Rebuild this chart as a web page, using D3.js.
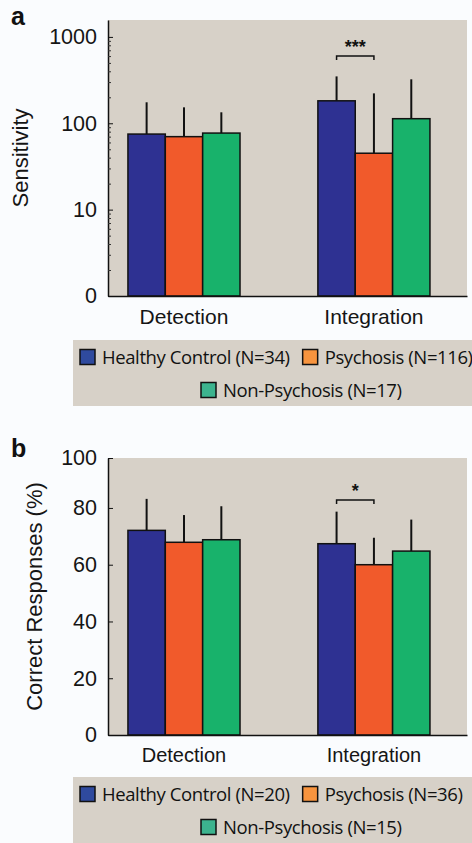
<!DOCTYPE html>
<html>
<head>
<meta charset="utf-8">
<script src="https://cdn.jsdelivr.net/npm/d3@7"></script>
<style>
  html, body { margin: 0; padding: 0; background: #fafcfe; }
  svg { display: block; }
</style>
</head>
<body>
<div id="chart"></div>
<script>
// data
var tasks = ["Detection", "Integration"];
var groups = ["Healthy Control", "Psychosis", "Non-Psychosis"];

var sensitivityMean = [[75, 70, 77], [182, 45, 113]];
var sensitivityUpper = [[175, 153, 134], [349, 222, 323]];
var sensitivityN = [34, 116, 17];
var sensitivityTicks = [1, 10, 100, 1000];
var sensitivityTickLabels = ["0", "10", "100", "1000"];

var correctMean = [[72.1, 67.9, 68.8], [67.4, 60.0, 64.8]];
var correctUpper = [[83.2, 77.5, 80.6], [78.7, 69.5, 75.9]];
var correctN = [20, 36, 15];
var correctTicks = [0, 20, 40, 60, 80, 100];
var correctTickLabels = ["0", "20", "40", "60", "80", "100"];

var barColors = ["#2e3192", "#f15a2b", "#18b26b"];
var legendColors = ["#2f4a9e", "#f7943e", "#3cb38e"];

var width = 472, height = 843;
var plotLeft = 108, plotRight = 467;
var axisFont = "'Liberation Sans', Arial, sans-serif";
var legendFont = "'Open Sans', sans-serif";

var svg = d3.select("#chart")
    .append("svg")
    .attr("width", width)
    .attr("height", height);

function drawPanel(p)
{
    var g = svg.append("g");

    var scaleX = d3.scaleBand(tasks, [plotLeft, plotRight])
        .paddingInner(0.41)
        .paddingOuter(0.15)
        .align(0.35);
    var scaleGroup = d3.scaleBand(groups, [0, scaleX.bandwidth()]);
    var scaleY = p.scaleY;
    var yBottom = scaleY.range()[0], yTop = scaleY.range()[1];

    // plot background
    g.append("rect")
        .attr("x", plotLeft)
        .attr("y", yTop)
        .attr("width", plotRight - plotLeft)
        .attr("height", yBottom - yTop)
        .attr("fill", "#d7d1c8");

    // panel letter
    g.append("text")
        .attr("x", 11)
        .attr("y", p.letterY)
        .attr("font-family", axisFont)
        .attr("font-weight", "bold")
        .attr("font-size", "25px")
        .attr("fill", "#111")
        .text(p.letter);

    var rows = [];
    tasks.forEach(function (t, i) {
        groups.forEach(function (grp, j) {
            rows.push({ task: t, group: grp, k: j, mean: p.mean[i][j], upper: p.upper[i][j] });
        });
    });

    var bars = g.append("g")
        .selectAll("g")
        .data(rows)
        .enter()
        .append("g")
            .attr("transform", function (d) { return `translate(${scaleX(d.task) + scaleGroup(d.group)},0)`; });

    bars.append("line")
        .attr("x1", scaleGroup.bandwidth() / 2)
        .attr("x2", scaleGroup.bandwidth() / 2)
        .attr("y1", function (d) { return scaleY(d.mean); })
        .attr("y2", function (d) { return scaleY(d.upper); })
        .attr("stroke", "#111")
        .attr("stroke-width", 2);

    bars.append("rect")
        .attr("x", 0)
        .attr("y", function (d) { return scaleY(d.mean); })
        .attr("width", scaleGroup.bandwidth())
        .attr("height", function (d) { return yBottom - scaleY(d.mean); })
        .attr("fill", function (d) { return barColors[d.k]; })
        .attr("stroke", "#111")
        .attr("stroke-width", 1.5);

    // significance bracket
    var s = p.sig;
    var bx1 = scaleX(s.task) + scaleGroup(groups[s.from]) + scaleGroup.bandwidth() / 2;
    var bx2 = scaleX(s.task) + scaleGroup(groups[s.to]) + scaleGroup.bandwidth() / 2;
    var by = scaleY(s.at);
    g.append("path")
        .attr("d", `M${bx1},${by + 4}V${by}H${bx2}V${by + 4}`)
        .attr("fill", "none")
        .attr("stroke", "#111")
        .attr("stroke-width", 1.5);
    g.append("text")
        .attr("x", (bx1 + bx2) / 2)
        .attr("y", by - 3)
        .attr("text-anchor", "middle")
        .attr("font-family", axisFont)
        .attr("font-weight", "bold")
        .attr("font-size", "18px")
        .attr("fill", "#111")
        .text(s.label);

    // y axis
    var axisY = d3.axisLeft(scaleY)
        .tickValues(p.ticks)
        .tickFormat(function (d, i) { return p.tickLabels[i]; })
        .tickSizeInner(-5)
        .tickSizeOuter(0)
        .tickPadding(11);
    var gy = g.append("g")
        .attr("transform", `translate(${plotLeft},0)`)
        .call(axisY);
    gy.selectAll("text")
        .attr("font-family", axisFont)
        .attr("font-size", "21.5px")
        .attr("fill", "#151515");
    gy.select(".domain").attr("stroke", "#111").attr("stroke-width", 1.5);
    gy.selectAll(".tick line").attr("stroke", "#111");

    if (p.minor) {
        var gm = g.append("g")
            .attr("transform", `translate(${plotLeft},0)`)
            .call(d3.axisLeft(scaleY).tickValues(p.minor).tickFormat("").tickSizeInner(-3).tickSizeOuter(0));
        gm.select(".domain").remove();
        gm.selectAll(".tick line").attr("stroke", "#333");
    }

    g.append("text")
        .attr("transform", `translate(${p.labelX},${(yTop + yBottom) / 2 + p.labelShift}) rotate(-90)`)
        .attr("text-anchor", "middle")
        .attr("font-family", axisFont)
        .attr("font-size", "22px")
        .attr("fill", "#151515")
        .text(p.yLabel);

    // x axis
    var axisX = d3.axisBottom(scaleX)
        .tickSize(0)
        .tickSizeOuter(0)
        .tickPadding(13);
    var gx = g.append("g")
        .attr("transform", `translate(0,${yBottom})`)
        .call(axisX);
    gx.selectAll("text")
        .attr("font-family", axisFont)
        .attr("font-size", p.catFont)
        .attr("fill", "#151515");
    gx.select(".domain").attr("stroke", "#111").attr("stroke-width", 1.5);

    // legend
    var lg = g.append("g");
    lg.append("rect")
        .attr("x", 73)
        .attr("y", p.legendTop)
        .attr("width", width - 73)
        .attr("height", 66)
        .attr("fill", "#d7d1c8");

    var items = groups.map(function (grp, j) { return { label: `${grp} (N=${p.n[j]})`, k: j }; });
    var x = 80;
    items.forEach(function (it) {
        var row = it.k < 2 ? 0 : 1;
        var ix = row == 0 ? x : 201;
        var cy = p.legendTop + (row == 0 ? 17 : 50);
        lg.append("rect")
            .attr("x", ix)
            .attr("y", cy - 7.5)
            .attr("width", 15)
            .attr("height", 15)
            .attr("fill", legendColors[it.k])
            .attr("stroke", "#111")
            .attr("stroke-width", 1.5);
        var t = lg.append("text")
            .attr("x", ix + 22)
            .attr("y", cy + 6.5)
            .attr("font-family", legendFont)
            .attr("font-size", "18.5px")
            .attr("letter-spacing", "-0.4px")
            .attr("fill", "#111")
            .text(it.label);
        if (row == 0)
            x = ix + 22 + t.node().getComputedTextLength() + 13;
    });
}

var logMinor = [];
[1, 10, 100].forEach(function (dec) {
    for (var m = 2; m <= 9; m++) logMinor.push(dec * m);
});

drawPanel({
    letter: "a",
    letterY: 25,
    scaleY: d3.scaleLog([1, 1570], [296, 20]),
    mean: sensitivityMean,
    upper: sensitivityUpper,
    n: sensitivityN,
    ticks: sensitivityTicks,
    tickLabels: sensitivityTickLabels,
    minor: logMinor,
    yLabel: "Sensitivity",
    labelX: 28,
    labelShift: 0,
    catFont: "21px",
    sig: { task: "Integration", from: 0, to: 1, at: 600, label: "***" },
    legendTop: 340
});

drawPanel({
    letter: "b",
    letterY: 457,
    scaleY: d3.scaleLinear([0, 97.6], [735, 458]).clamp(true),
    mean: correctMean,
    upper: correctUpper,
    n: correctN,
    ticks: correctTicks,
    tickLabels: correctTickLabels,
    minor: null,
    yLabel: "Correct Responses (%)",
    labelX: 42,
    labelShift: 0,
    catFont: "20px",
    sig: { task: "Integration", from: 0, to: 1, at: 82.8, label: "*" },
    legendTop: 777
});
</script>
</body>
</html>
